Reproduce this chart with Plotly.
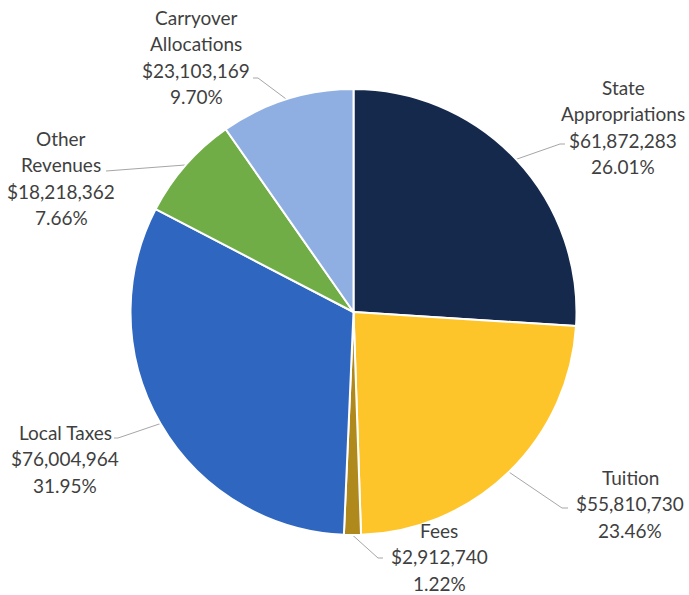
import math
import plotly.graph_objects as go

# Revenue sources, clockwise from 12 o'clock
categories = ["State Appropriations", "Tuition", "Fees", "Local Taxes",
              "Other Revenues", "Carryover Allocations"]
label_lines = [["State", "Appropriations"], ["Tuition"], ["Fees"], ["Local Taxes"],
               ["Other", "Revenues"], ["Carryover", "Allocations"]]
amounts = [61872283, 55810730, 2912740, 76004964, 18218362, 23103169]
percent_labels = ["26.01%", "23.46%", "1.22%", "31.95%", "7.66%", "9.70%"]
colors = ["#15294D", "#FEC52B", "#AF891C", "#2F66C0", "#70AD47", "#8FAFE3"]

W, H = 689, 595
CX, CY, R = 353.5, 312.0, 223.0

# label block layout (pixel space): centre x, first line y, elbow x/y, elbow end x
label_layout = [
    dict(x=623, y=87, ex=560, ey=144, hx=565),
    dict(x=630, y=477, ex=562, ey=508, hx=568),
    dict(x=439, y=530, ex=378, ey=558, hx=383),
    dict(x=65, y=432, ex=118, ey=438, hx=114),
    dict(x=61, y=138, ex=110, ey=171, hx=106),
    dict(x=196, y=17, ex=258, ey=78, hx=253),
]
LINE_H = 26.6
FONT = dict(family="Lato, 'Open Sans', sans-serif", size=19, color="#3F3F3F")

fig = go.Figure()

fig.add_trace(go.Pie(
    labels=categories, values=amounts, sort=False, direction="clockwise",
    rotation=0, marker=dict(colors=colors, line=dict(color="white", width=2)),
    textinfo="none", hoverinfo="label+value+percent", showlegend=False,
    domain=dict(x=[(CX - R) / W, (CX + R) / W],
                y=[(H - CY - R) / H, (H - CY + R) / H]),
))

total = sum(amounts)
cum = 0.0
annotations = []
for name_lines, amt, pct, lay in zip(label_lines, amounts, percent_labels, label_layout):
    mid = (cum + amt / 2) / total * 2 * math.pi
    cum += amt
    px = CX + R * math.sin(mid)
    py = CY - R * math.cos(mid)
    # leader line: slice edge -> elbow -> short horizontal run
    fig.add_trace(go.Scatter(
        x=[px, lay["ex"], lay["hx"]], y=[py, lay["ey"], lay["ey"]],
        mode="lines", line=dict(color="#A6A6A6", width=1),
        hoverinfo="skip", showlegend=False, xaxis="x", yaxis="y",
    ))
    lines = name_lines + ["${:,}".format(amt), pct]
    for i, t in enumerate(lines):
        annotations.append(dict(
            x=lay["x"], y=lay["y"] + i * LINE_H, xref="x", yref="y",
            text=t, showarrow=False, font=FONT,
            xanchor="center", yanchor="middle",
        ))

fig.update_layout(
    width=W, height=H, margin=dict(l=0, r=0, t=0, b=0),
    paper_bgcolor="white", plot_bgcolor="rgba(0,0,0,0)",
    xaxis=dict(range=[0, W], visible=False, fixedrange=True, domain=[0, 1]),
    yaxis=dict(range=[H, 0], visible=False, fixedrange=True, domain=[0, 1]),
    annotations=annotations,
)

fig.write_html("out.html")
